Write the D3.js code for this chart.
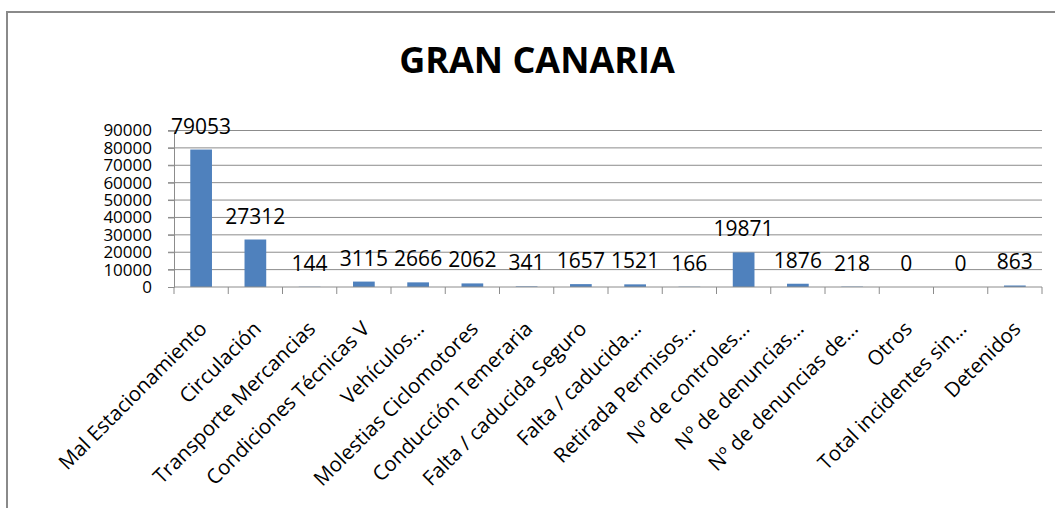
<!DOCTYPE html>
<html>
<head>
<meta charset="utf-8">
<script src="https://cdn.jsdelivr.net/npm/d3@7"></script>
<style>
  body { margin: 0; background: #fff; }
  text { font-family: "Open Sans", sans-serif; fill: #000; }
</style>
</head>
<body>
<div id="chart"></div>
<script>
const title = "GRAN CANARIA";
const categories = [
    "Mal Estacionamiento", "Circulación", "Transporte Mercancias", "Condiciones Técnicas V",
    "Vehículos…", "Molestias Ciclomotores", "Conducción Temeraria", "Falta / caducida Seguro",
    "Falta / caducida…", "Retirada Permisos…", "Nº de controles…", "Nº de denuncias…",
    "Nº de denuncias de…", "Otros", "Total incidentes sin…", "Detenidos"
];
const values = [79053, 27312, 144, 3115, 2666, 2062, 341, 1657, 1521, 166, 19871, 1876, 218, 0, 0, 863];
const yTicks = [0, 10000, 20000, 30000, 40000, 50000, 60000, 70000, 80000, 90000];

const W = 1055, H = 508;
const plot = { left: 174, right: 1042, top: 130.5, bottom: 287 };

const svg = d3.select("#chart").append("svg")
    .attr("width", W)
    .attr("height", H);

// outer frame (runs off the right and bottom edges)
svg.append("rect")
    .attr("x", 7).attr("y", 12)
    .attr("width", W).attr("height", H)
    .attr("fill", "none")
    .attr("stroke", "#8a8a8a")
    .attr("stroke-width", 2);

svg.append("text")
    .attr("x", 537).attr("y", 73)
    .attr("text-anchor", "middle")
    .attr("font-size", 36)
    .attr("font-weight", "bold")
    .text(title);

const x = d3.scaleBand()
    .domain(categories)
    .range([plot.left, plot.right])
    .paddingInner(0.6)
    .paddingOuter(0.3);

const xEdge = d3.scaleLinear()
    .domain([0, categories.length])
    .range([plot.left, plot.right]);

const y = d3.scaleLinear()
    .domain([0, 90000])
    .range([plot.bottom, plot.top]);

// gridlines
svg.append("g")
    .selectAll("line")
    .data(yTicks.slice(1))
    .join("line")
    .attr("x1", plot.left - 6).attr("x2", plot.right)
    .attr("y1", d => y(d)).attr("y2", d => y(d))
    .attr("stroke", "#8c8c8c")
    .attr("stroke-width", 1);

// y axis
const yAxis = svg.append("g")
    .attr("transform", `translate(${plot.left},0)`)
    .call(d3.axisLeft(y).tickValues(yTicks).tickSize(6).tickPadding(16).tickFormat(d3.format("d")));
yAxis.select(".domain").attr("stroke", "#8c8c8c");
yAxis.selectAll(".tick line").attr("stroke", "#8c8c8c");
yAxis.selectAll("text")
    .attr("font-size", 17)
    .attr("font-family", "Open Sans, sans-serif")
    .attr("fill", "#000");

// bars
svg.append("g")
    .selectAll("rect")
    .data(values)
    .join("rect")
    .attr("x", (d, i) => x(categories[i]))
    .attr("y", d => y(d))
    .attr("width", x.bandwidth())
    .attr("height", d => plot.bottom - y(d))
    .attr("fill", "#4f81bd");

// x axis line and ticks at category edges
svg.append("line")
    .attr("x1", plot.left).attr("x2", plot.right)
    .attr("y1", plot.bottom).attr("y2", plot.bottom)
    .attr("stroke", "#8c8c8c");
svg.append("g")
    .selectAll("line")
    .data(d3.range(categories.length + 1))
    .join("line")
    .attr("x1", d => xEdge(d)).attr("x2", d => xEdge(d))
    .attr("y1", plot.bottom).attr("y2", plot.bottom + 7)
    .attr("stroke", "#8c8c8c");

// data labels
svg.append("g")
    .selectAll("text")
    .data(values)
    .join("text")
    .attr("x", (d, i) => x(categories[i]) + x.bandwidth() / 2)
    .attr("y", d => y(d) - 16)
    .attr("text-anchor", "middle")
    .attr("font-size", 21)
    .text(d => d);

// category labels
svg.append("g")
    .selectAll("text")
    .data(categories)
    .join("text")
    .attr("transform", d => `translate(${x(d) + x.bandwidth() / 2 + 2},${plot.bottom + 38}) rotate(-45)`)
    .attr("text-anchor", "end")
    .attr("dy", "0.35em")
    .attr("font-size", 20.5)
    .text(d => d);
</script>
</body>
</html>
